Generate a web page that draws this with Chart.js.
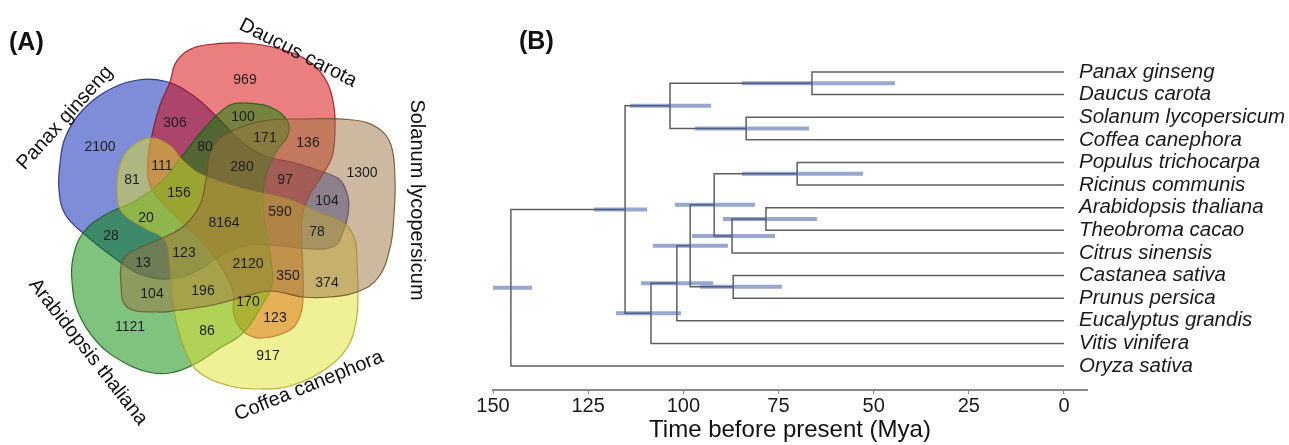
<!DOCTYPE html>
<html>
<head>
<meta charset="utf-8">
<title>Shared gene families and divergence times</title>
<script src="https://cdn.jsdelivr.net/npm/chart.js@4.4.1/dist/chart.umd.min.js"></script>
<style>
  html, body { margin: 0; padding: 0; background: #fff; }
  #page { position: relative; width: 1289px; height: 445px; overflow: hidden; font-family: 'Liberation Sans', Arial, sans-serif; }
  canvas { position: absolute; top: 0; }
  #venn { left: 0; }
  #tree { left: 460px; }
  .tag { position: absolute; font-weight: bold; font-size: 25px; line-height: 30px; color: #111; }
</style>
</head>
<body>
<div id="page">
  <canvas id="venn" width="460" height="445"></canvas>
  <canvas id="tree" width="829" height="445"></canvas>
  <div class="tag" style="left:9px; top:26px">(A)</div>
  <div class="tag" style="left:519px; top:25px">(B)</div>
</div>
<script>
const FONT = "'Liberation Sans', Arial, sans-serif";

// ---------- (A) Venn diagram of gene families ----------
const setNames = ['Panax ginseng', 'Daucus carota', 'Solanum lycopersicum', 'Coffea canephora', 'Arabidopsis thaliana'];

// outlines in diagram units, origin at the middle of the diagram, y up
const panaxShape = [[-54,138],[-27,123],[-5,103],[18,80],[41,65],[73,57],[101,48],[118,40],[126,23],[126,5],[121,-12],[113,-26],[88,-29],[60,-26],[28,-25],[0,-35],[-27,-52],[-54,-59],[-82,-54],[-102,-42],[-139,-13],[-157,6],[-163,30],[-162,57],[-157,82],[-142,107],[-117,128],[-84,140]];
const daucusShape = [[-52,138],[-47,156],[-35,169],[-17,175],[21,177],[58,171],[88,158],[105,138],[112,113],[113,88],[110,63],[101,46],[86,22],[80,2],[80,-25],[81,-50],[81,-78],[78,-96],[68,-110],[40,-118],[22,-112],[12,-95],[11,-72],[0,-48],[-17,-25],[-37,-5],[-59,17],[-72,35],[-74,60],[-70,85],[-62,115]];
const solanumShape = [[41,99],[78,101],[131,100],[156,92],[169,75],[173,40],[172,5],[168,-28],[156,-58],[135,-72],[108,-77],[81,-77],[48,-71],[18,-78],[-9,-85],[-42,-90],[-65,-92],[-95,-87],[-101,-63],[-99,-40],[-87,-30],[-57,-17],[-37,-5],[-22,15],[-16,40],[-10,72],[8,88]];
const coffeaShape = [[-72,82],[-52,74],[-40,60],[-22,46],[18,32],[68,20],[98,7],[123,-4],[133,-20],[135,-45],[136,-72],[134,-102],[125,-128],[105,-148],[71,-165],[38,-169],[8,-166],[-22,-153],[-35,-135],[-45,-105],[-50,-78],[-52,-45],[-57,-20],[-77,-8],[-100,8],[-105,30],[-102,55],[-92,72]];
const arabidopsisShape = [[21,117],[48,113],[65,100],[66,85],[54,68],[44,45],[41,20],[44,-10],[49,-40],[50,-65],[40,-85],[21,-113],[-2,-128],[-29,-145],[-52,-153],[-74,-152],[-99,-142],[-125,-122],[-144,-92],[-150,-62],[-149,-38],[-139,-13],[-117,5],[-85,20],[-62,37],[-45,57],[-25,83],[-5,105],[8,115]];

const regionCounts = [969, 306, 100, 171, 136, 2100, 80, 111, 280, 1300, 81, 97, 156, 104, 20, 590, 8164, 28, 78, 123, 13, 2120, 350, 374, 104, 196, 170, 123, 1121, 86, 917];
const regionPos = [[23,140],[-47,97],[21,103],[43,82],[86,77],[-122,73],[-17,73],[-60,54],[20,53],[140,47],[-90,40],[63,40],[-43,27],[105,19],[-76,2],[58,8],[2,-3],[-111,-16],[95,-12],[-38,-33],[-79,-43],[26,-44],[66,-56],[105,-63],[-70,-74],[-19,-71],[26,-82],[53,-98],[-92,-107],[-15,-111],[46,-136]];

const setLabelPos = [[-157,102],[76,167],[195,20],[87,-166],[-134,-132]];
const setLabelAngle = [-48, 27, 90, -22, 52];

const setFill = ['rgba(0,25,175,0.5)', 'rgba(215,0,0,0.5)', 'rgba(155,115,65,0.5)', 'rgba(225,225,45,0.5)', 'rgba(0,135,0,0.5)'];
const setLine = ['rgba(30,40,130,0.85)', 'rgba(140,20,30,0.85)', 'rgba(110,80,40,0.85)', 'rgba(170,165,30,0.85)', 'rgba(20,95,20,0.85)'];
const drawOrder = [5, 4, 1, 2, 3]; // blue at the bottom, brown on top

const shapes = [panaxShape, daucusShape, solanumShape, coffeaShape, arabidopsisShape];

// let the line elements close on themselves like radar lines do
const closedShapes = {
  id: 'closedShapes',
  afterDatasetUpdate(chart, args) {
    const ds = chart.data.datasets[args.index];
    const line = args.meta.dataset;
    if (ds.closed && line) {
      line._loop = true;
      line._fullLoop = true;
      line._pointsUpdated = false;
      delete line._segments;
      delete line._path;
    }
  }
};

const vennText = {
  id: 'vennText',
  afterDatasetsDraw(chart) {
    const {ctx} = chart;
    const x = chart.scales.x, y = chart.scales.y;
    const meta = chart.getDatasetMeta(chart.data.datasets.length - 1);
    ctx.save();
    ctx.textAlign = 'center';
    ctx.textBaseline = 'middle';
    ctx.font = '14px ' + FONT;
    ctx.fillStyle = '#1d1d1d';
    meta.data.forEach((pt, i) => ctx.fillText(String(regionCounts[i]), pt.x, pt.y));
    ctx.font = '20px ' + FONT;
    ctx.fillStyle = '#111';
    setNames.forEach((name, i) => {
      ctx.save();
      ctx.translate(x.getPixelForValue(setLabelPos[i][0]), y.getPixelForValue(setLabelPos[i][1]));
      ctx.rotate(setLabelAngle[i] * Math.PI / 180);
      ctx.fillText(name, 0, 0);
      ctx.restore();
    });
    ctx.restore();
  }
};

const vennSets = shapes.map((pts, i) => ({
  label: setNames[i],
  data: pts.map(p => ({x: p[0], y: p[1]})),
  showLine: true,
  closed: true,
  spanGaps: true,
  fill: 'shape',
  tension: 0.4,
  backgroundColor: setFill[i],
  borderColor: setLine[i],
  borderWidth: 1.2,
  pointRadius: 0,
  order: drawOrder[i]
}));

new Chart(document.getElementById('venn'), {
  type: 'scatter',
  data: {
    datasets: vennSets.concat([{
      label: 'counts',
      data: regionPos.map(p => ({x: p[0], y: p[1]})),
      pointRadius: 0,
      order: 0
    }])
  },
  options: {
    responsive: false,
    animation: false,
    events: [],
    layout: { padding: 0 },
    plugins: { legend: { display: false }, tooltip: { enabled: false } },
    scales: {
      x: { type: 'linear', display: false, min: -222, max: 238 },
      y: { type: 'linear', display: false, min: -225, max: 220 }
    }
  },
  plugins: [closedShapes, vennText]
});

// ---------- (B) dated phylogeny ----------
const taxa = ['Panax ginseng', 'Daucus carota', 'Solanum lycopersicum', 'Coffea canephora', 'Populus trichocarpa', 'Ricinus communis', 'Arabidopsis thaliana', 'Theobroma cacao', 'Citrus sinensis', 'Castanea sativa', 'Prunus persica', 'Eucalyptus grandis', 'Vitis vinifera', 'Oryza sativa'];
// children of each internal node: 0-13 are taxa, 14+ are earlier nodes in this list
const nodeKids = [[0,1],[2,3],[14,15],[4,5],[6,7],[18,8],[17,19],[9,10],[20,21],[22,11],[23,12],[16,24],[25,13]];
const nodeAge  = [66.2, 83.5, 103.5, 70.1, 78.3, 87.2, 91.9, 86.9, 98.2, 101.7, 108.5, 115.3, 145.3];
const ageLow   = [44.4, 67.0, 92.7, 52.8, 64.9, 75.9, 81.2, 74.1, 88.3, 92.2, 100.6, 109.5, 139.7];
const ageHigh  = [84.6, 96.9, 114.0, 84.6, 89.6, 97.7, 102.2, 95.6, 108.0, 111.1, 117.7, 123.5, 150.0];
const timeTicks = [150, 125, 100, 75, 50, 25, 0];

const nLeaf = taxa.length;
const nodeY = [];
const yOf = k => k < nLeaf ? k : nodeY[k - nLeaf];
const ageOf = k => k < nLeaf ? 0 : nodeAge[k - nLeaf];
nodeKids.forEach(([a, b], i) => { nodeY[i] = (yOf(a) + yOf(b)) / 2; });

const branchPts = [];
nodeKids.forEach(([a, b], i) => {
  branchPts.push(
    {x: ageOf(a), y: yOf(a)}, {x: nodeAge[i], y: yOf(a)},
    {x: nodeAge[i], y: yOf(b)}, {x: ageOf(b), y: yOf(b)},
    {x: null, y: null});
});
const hpdPts = [];
nodeKids.forEach((_, i) => {
  hpdPts.push({x: ageLow[i], y: nodeY[i]}, {x: ageHigh[i], y: nodeY[i]}, {x: null, y: null});
});

// taxon names sit just right of the tips (age 0)
const taxonLabels = {
  id: 'taxonLabels',
  afterDatasetsDraw(chart) {
    const {ctx} = chart;
    const x = chart.scales.x, y = chart.scales.y;
    ctx.save();
    ctx.font = 'italic 20.5px ' + FONT;
    ctx.fillStyle = '#1a1a1a';
    ctx.textAlign = 'left';
    ctx.textBaseline = 'middle';
    taxa.forEach((name, i) => ctx.fillText(name, x.getPixelForValue(0) + 15, y.getPixelForValue(i)));
    ctx.restore();
  }
};

new Chart(document.getElementById('tree'), {
  type: 'scatter',
  data: {
    datasets: [
      { label: 'branches', data: branchPts, showLine: true, spanGaps: false, borderColor: '#5e5e5e', borderWidth: 1.5, pointRadius: 0, order: 1 },
      { label: '95% HPD', data: hpdPts, showLine: true, spanGaps: false, borderColor: 'rgba(70,95,165,0.55)', borderWidth: 4, borderCapStyle: 'butt', pointRadius: 0, order: 0 }
    ]
  },
  options: {
    responsive: false,
    animation: false,
    events: [],
    layout: { padding: { left: 33, top: 38, right: 202, bottom: 0 } },
    plugins: { legend: { display: false }, tooltip: { enabled: false } },
    scales: {
      x: {
        type: 'linear', position: 'bottom', reverse: true, min: -6.05, max: 150,
        afterBuildTicks: s => { s.ticks = timeTicks.map(v => ({value: v})); },
        afterFit: s => { s.height = 55; },
        grid: { display: true, drawOnChartArea: false, drawTicks: true, tickLength: 4, color: '#8a8a8a' },
        border: { display: true, color: '#8a8a8a', width: 2 },
        ticks: { font: { size: 20, family: FONT }, color: '#1a1a1a', padding: 0, maxRotation: 0, autoSkip: false },
        title: { display: true, text: 'Time before present (Mya)', font: { size: 24, family: FONT }, color: '#111', padding: { top: 0, bottom: 0 } }
      },
      y: {
        type: 'linear', display: false, reverse: true, min: -1.5, max: 14.06
      }
    }
  },
  plugins: [taxonLabels]
});
</script>
</body>
</html>
